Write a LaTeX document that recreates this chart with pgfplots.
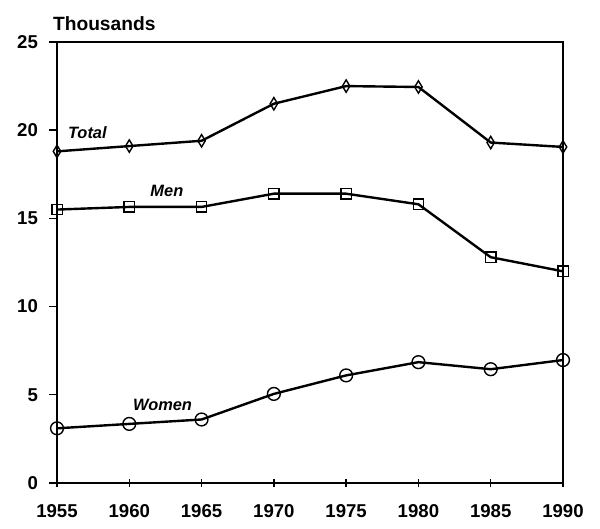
\documentclass[border=0pt]{standalone}
\usepackage{fontspec}
\setmainfont{Liberation Sans}
\usepackage{pgfplots}
\pgfplotsset{compat=1.18}
\begin{document}
\begin{tikzpicture}
\path (0pt,0pt) rectangle (300pt,264.5pt);
\begin{axis}[
  at={(28.5pt,23pt)}, anchor=south west,
  scale only axis, width=253pt, height=220.5pt,
  xmin=1955, xmax=1990, ymin=0, ymax=25,
  xtick={1955,1960,...,1990}, ytick={0,5,...,25},
  xtick pos=bottom, ytick pos=left,
  x tick label style={/pgf/number format/1000 sep={}},
  /pgf/number format/assume math mode=true,
  tick label style={font=\bfseries\fontsize{9.3}{11}\selectfont},
  xtick align=center, ytick align=outside,
  major tick length=4pt,
  tick style={line width=0.7pt, black},
  axis line style={line width=0.8pt},
  xticklabel style={yshift=-5pt},
  yticklabel style={xshift=-2pt},
  clip=false,
]
\addplot[black, line width=1.2pt, mark=diamond, mark size=3.1pt, mark options={solid, fill=white, line width=0.7pt, xscale=0.8}] coordinates {
(1955,18.8) (1960,19.1) (1965,19.4) (1970,21.5) (1975,22.5) (1980,22.45) (1985,19.3) (1990,19.05)};
\addplot[black, line width=1.2pt, mark=square, mark size=2.6pt, mark options={solid, fill=white, line width=0.7pt}] coordinates {
(1955,15.5) (1960,15.65) (1965,15.65) (1970,16.4) (1975,16.4) (1980,15.8) (1985,12.8) (1990,12.0)};
\addplot[black, line width=1.2pt, mark=o, mark size=3.2pt, mark options={solid, fill=white, line width=0.7pt}] coordinates {
(1955,3.1) (1960,3.35) (1965,3.6) (1970,5.05) (1975,6.1) (1980,6.85) (1985,6.45) (1990,6.97)};
\node[font=\bfseries\itshape\fontsize{8.2}{10}\selectfont] at (axis cs:1957.1,19.85) {Total};
\node[font=\bfseries\itshape\fontsize{8.2}{10}\selectfont] at (axis cs:1962.6,16.55) {Men};
\node[font=\bfseries\itshape\fontsize{8.2}{10}\selectfont] at (axis cs:1962.3,4.42) {Women};
\node[font=\bfseries\fontsize{9.6}{11}\selectfont, anchor=west, inner sep=0pt] at (axis cs:1954.7,26.05) {Thousands};
\end{axis}
\end{tikzpicture}
\end{document}
